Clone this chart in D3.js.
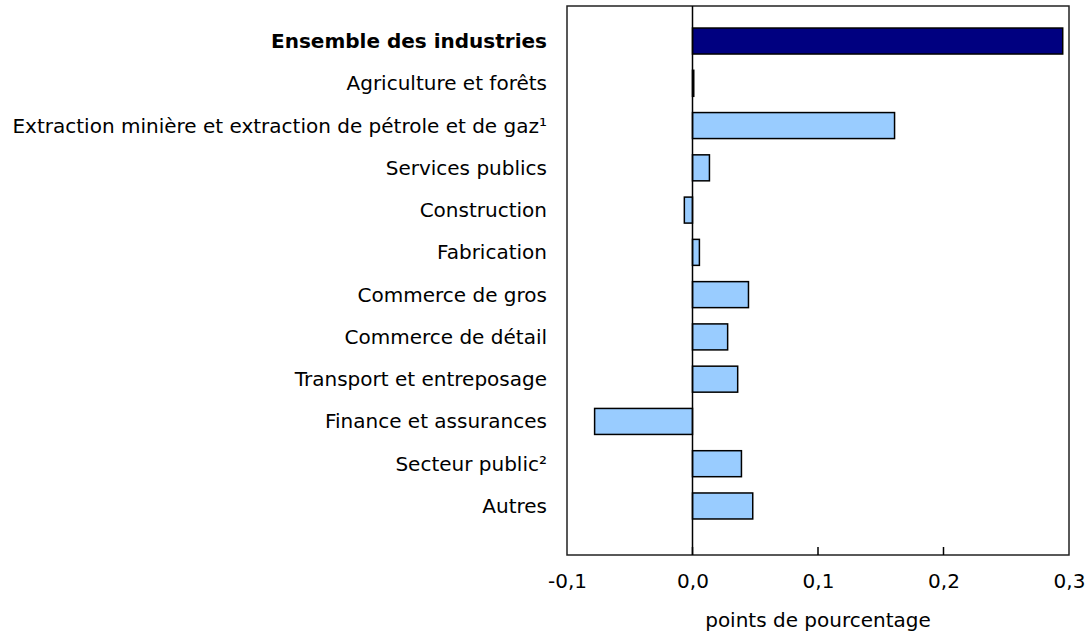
<!DOCTYPE html>
<html>
<head>
<meta charset="utf-8">
<script src="https://cdn.jsdelivr.net/npm/d3@7"></script>
<style>
  body { margin: 0; background: #fff; }
  text { font-family: "DejaVu Sans", Verdana, sans-serif; }
</style>
</head>
<body>
<div id="chart"></div>
<script>
const industries = [
    'Ensemble des industries',
    'Agriculture et forêts',
    'Extraction minière et extraction de pétrole et de gaz¹',
    'Services publics',
    'Construction',
    'Fabrication',
    'Commerce de gros',
    'Commerce de détail',
    'Transport et entreposage',
    'Finance et assurances',
    'Secteur public²',
    'Autres'
];
const contributions = [0.295, 0.001, 0.161, 0.0135, -0.0065, 0.0055, 0.0446, 0.028, 0.036, -0.078, 0.039, 0.048];
const xTicks = [-0.1, 0, 0.1, 0.2, 0.3];
const xTitle = 'points de pourcentage';

const W = 1088, H = 632;
const frame = { left: 567, right: 1069, top: 6, bottom: 555 };
const fontSize = '20px';

const svg = d3.select('#chart').append('svg')
    .attr('width', W)
    .attr('height', H);

const x = d3.scaleLinear()
    .domain([-0.1, 0.3])
    .range([frame.left, frame.right]);

const y = d3.scaleBand()
    .domain(industries)
    .range([frame.top + 14, frame.bottom - 28])
    .paddingInner(0.385)
    .paddingOuter(0.19);

// frame
svg.append('rect')
    .attr('x', frame.left)
    .attr('y', frame.top)
    .attr('width', frame.right - frame.left)
    .attr('height', frame.bottom - frame.top)
    .attr('fill', 'none')
    .attr('stroke', '#222')
    .attr('stroke-width', 1.5);

// bars
svg.selectAll('rect.bar')
    .data(industries)
    .join('rect')
    .attr('class', 'bar')
    .attr('x', (d, i) => x(Math.min(0, contributions[i])))
    .attr('y', d => y(d))
    .attr('width', (d, i) => Math.abs(x(contributions[i]) - x(0)))
    .attr('height', y.bandwidth())
    .attr('fill', (d, i) => i === 0 ? '#000080' : '#99ccff')
    .attr('stroke', '#000')
    .attr('stroke-width', 1.5);

// zero line
svg.append('line')
    .attr('x1', x(0)).attr('x2', x(0))
    .attr('y1', frame.top).attr('y2', frame.bottom)
    .attr('stroke', '#000')
    .attr('stroke-width', 1.5);

// x axis: inward ticks
const xAxis = d3.axisBottom(x)
    .tickValues(xTicks)
    .tickSize(0)
    .tickPadding(19)
    .tickFormat(d => d3.format('.1f')(d).replace('.', ',').replace('−', '-'));

const gx = svg.append('g')
    .attr('transform', `translate(0,${frame.bottom})`)
    .call(xAxis);
gx.select('.domain').remove();
gx.selectAll('text')
    .style('font-size', fontSize)
    .attr('fill', '#000');

svg.selectAll('line.tick')
    .data(xTicks.slice(1, -1))
    .join('line')
    .attr('class', 'tick')
    .attr('x1', d => x(d)).attr('x2', d => x(d))
    .attr('y1', frame.bottom).attr('y2', frame.bottom - 8)
    .attr('stroke', '#000')
    .attr('stroke-width', 1.5);

// category labels
svg.selectAll('text.label')
    .data(industries)
    .join('text')
    .attr('class', 'label')
    .attr('x', frame.left - 20)
    .attr('y', d => y(d) + y.bandwidth() / 2)
    .attr('dy', '0.35em')
    .attr('text-anchor', 'end')
    .style('font-size', fontSize)
    .style('font-weight', (d, i) => i === 0 ? 'bold' : 'normal')
    .text(d => d);

// axis title
svg.append('text')
    .attr('x', x(0.1))
    .attr('y', 627)
    .attr('text-anchor', 'middle')
    .style('font-size', fontSize)
    .text(xTitle);
</script>
</body>
</html>
